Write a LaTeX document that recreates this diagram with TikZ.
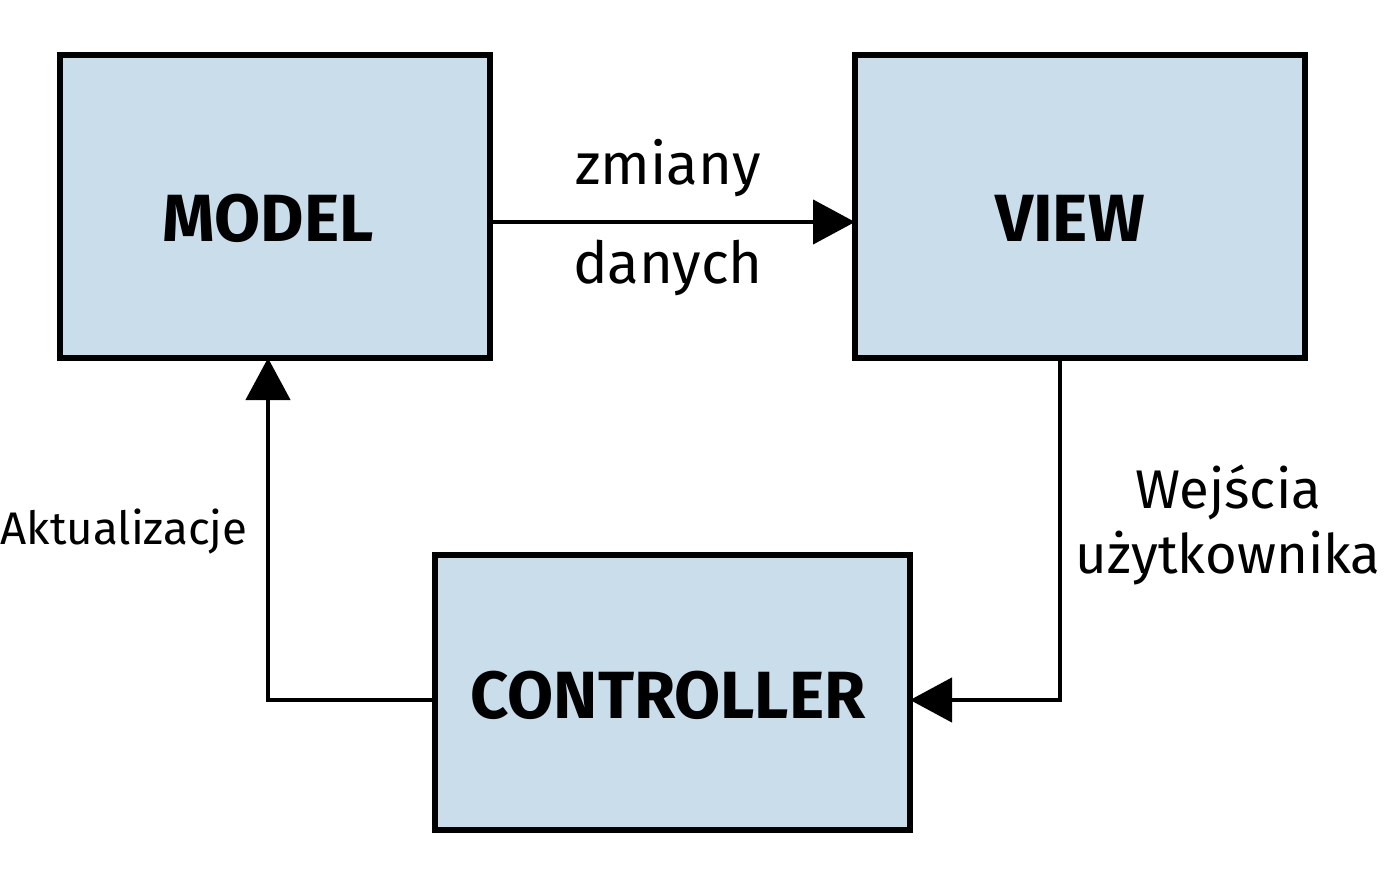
\documentclass[tikz,border=0pt]{standalone}
\usepackage{fontspec}
\setmainfont{Fira Sans}
\usetikzlibrary{arrows.meta}
\definecolor{boxfill}{HTML}{CADDEB}
\begin{document}
\begin{tikzpicture}[x=0.1mm,y=-0.1mm,
  box/.style={draw=black,line width=0.6mm,fill=boxfill},
  title/.style={font=\fontsize{19}{22}\selectfont\bfseries},
  conn/.style={line width=0.45mm,-{Triangle[length=4.2mm,width=4.4mm]}},
  lbl/.style={font=\fontsize{16.5}{20}\selectfont}]
\useasboundingbox[fill=white] (0,0) rectangle (1390,874);
\draw[box] (60,55) rectangle (490,358);
\node[title] (model) at (268,218) {MODEL};
\draw[box] (855,55) rectangle (1305,358);
\node[title] (view) at (1070,218) {VIEW};
\draw[box] (435,555) rectangle (910,830);
\node[title] (ctrl) at (668,695) {CONTROLLER};
\coordinate (mR) at (490,222); \coordinate (vL) at (855,222);
\coordinate (vB) at (1060,358); \coordinate (c1) at (1060,700); \coordinate (cR) at (910,700);
\coordinate (cL) at (435,700); \coordinate (c2) at (268,700); \coordinate (mB) at (268,358);
\draw[conn] (mR) -- (vL);
\draw[conn] (vB) -- (c1) -- (cR);
\draw[conn] (cL) -- (c2) -- (mB);
\node[lbl] (l1) at (668,168) {zmiany};
\node[lbl] (l2) at (668,268) {danych};
\node[font=\fontsize{15.5}{19}\selectfont] (l3) at (1228,492) {Wejścia};
\node[font=\fontsize{15.5}{19}\selectfont] (l4) at (1228,558) {użytkownika};
\node[font=\fontsize{13}{16}\selectfont,anchor=east] (l5) at (260,532) {Aktualizacje};
\end{tikzpicture}
\end{document}
